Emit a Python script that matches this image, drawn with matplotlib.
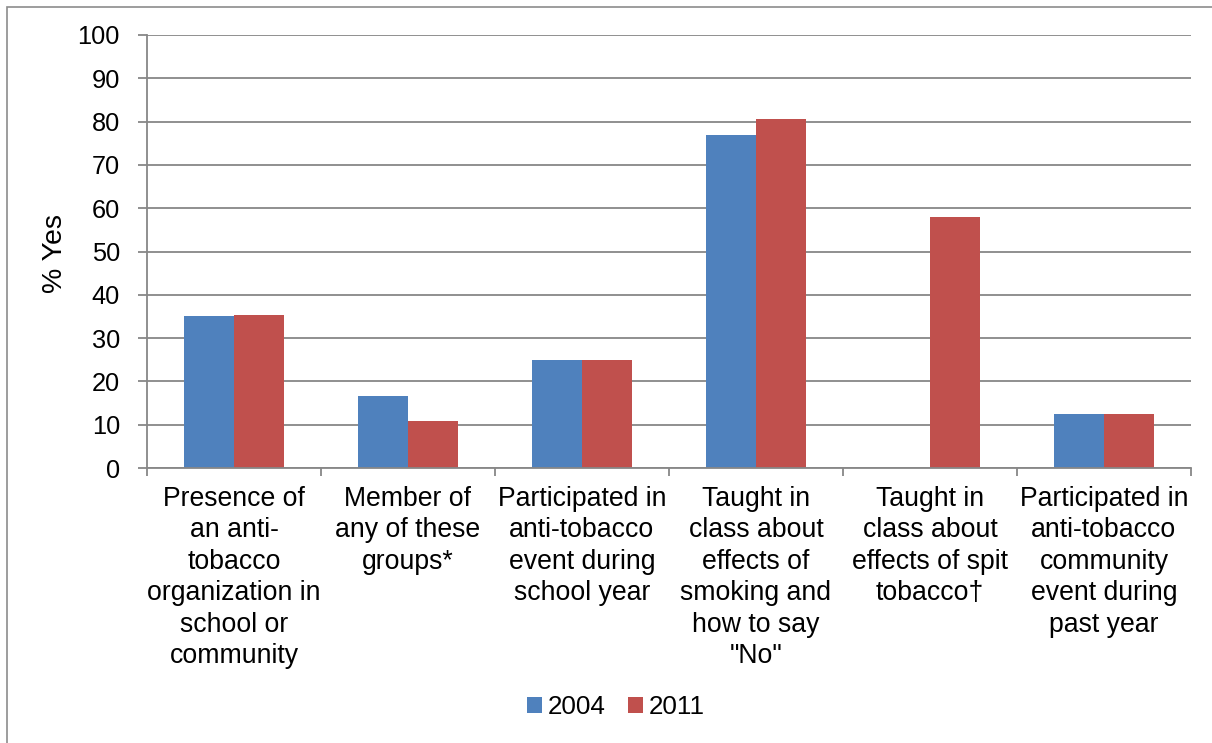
import numpy as np
import matplotlib.pyplot as plt
from matplotlib.patches import Rectangle

plt.rcParams['font.family'] = ['Liberation Sans', 'DejaVu Sans']

categories = [
    "Presence of\nan anti-\ntobacco\norganization in\nschool or\ncommunity",
    "Member of\nany of these\ngroups*",
    "Participated in\nanti-tobacco\nevent during\nschool year",
    "Taught in\nclass about\neffects of\nsmoking and\nhow to say\n\"No\"",
    "Taught in\nclass about\neffects of spit\ntobacco\u2020",
    "Participated in\nanti-tobacco\ncommunity\nevent during\npast year",
]
years = ["2004", "2011"]
pct_2004 = [35.2, 16.7, 24.9, 77.0, np.nan, 12.4]
pct_2011 = [35.3, 10.8, 24.9, 80.5, 57.9, 12.5]

BLUE = "#4F81BD"
RED = "#C0504D"
GRAY = "#878787"

fig = plt.figure(figsize=(12.12, 7.43), dpi=100)
ax = fig.add_axes([147 / 1212, 275 / 743, 1044 / 1212, 433 / 743])

# two bars per category, gap between groups 1.5x a bar width
x = np.arange(len(categories))
w = 2 / 7
ax.bar(x - w / 2, pct_2004, w, color=BLUE, label=years[0], zorder=3)
ax.bar(x + w / 2, pct_2011, w, color=RED, label=years[1], zorder=3)

ax.set_xlim(-0.5, len(categories) - 0.5)
ax.set_ylim(0, 100)
ax.set_yticks(range(0, 101, 10))
ax.yaxis.grid(True, color=GRAY, lw=1.3)
ax.set_axisbelow(True)

for side in ["top", "right"]:
    ax.spines[side].set_visible(False)
for side in ["left", "bottom"]:
    ax.spines[side].set_color(GRAY)
    ax.spines[side].set_linewidth(1.3)
    ax.spines[side].set_zorder(4)

# tick marks on category boundaries, labels under category centres
ax.set_xticks(np.arange(-0.5, len(categories), 1.0))
ax.set_xticklabels([])
ax.set_xticks(x, categories, minor=True)
ax.tick_params(axis="x", which="major", direction="out", length=6, width=1.3, color=GRAY)
ax.tick_params(axis="x", which="minor", length=0, pad=13, labelsize=19.2)
for lbl in ax.get_xticklabels(minor=True):
    lbl.set_linespacing(1.27)
ax.tick_params(axis="y", direction="out", length=6.5, width=1.3, color=GRAY,
               pad=13, labelsize=18.3)

fig.text(55 / 1212, 1 - 253.5 / 743, "% Yes", rotation=90, fontsize=20.5,
         ha="center", va="center")

fig.legend(loc="center", bbox_to_anchor=(616 / 1212, 36 / 743), ncol=2,
           frameon=False, fontsize=18.7, handlelength=0.56, handleheight=0.56,
           handletextpad=0.25, columnspacing=0.85)

# chart area border
fig.add_artist(Rectangle((6.5 / 1212, -0.1), 1.2, 1.1 - 6.5 / 743,
                         transform=fig.transFigure, fill=False,
                         ec="#8c8c8c", lw=1.2))

fig.savefig("out.png", dpi=100)
